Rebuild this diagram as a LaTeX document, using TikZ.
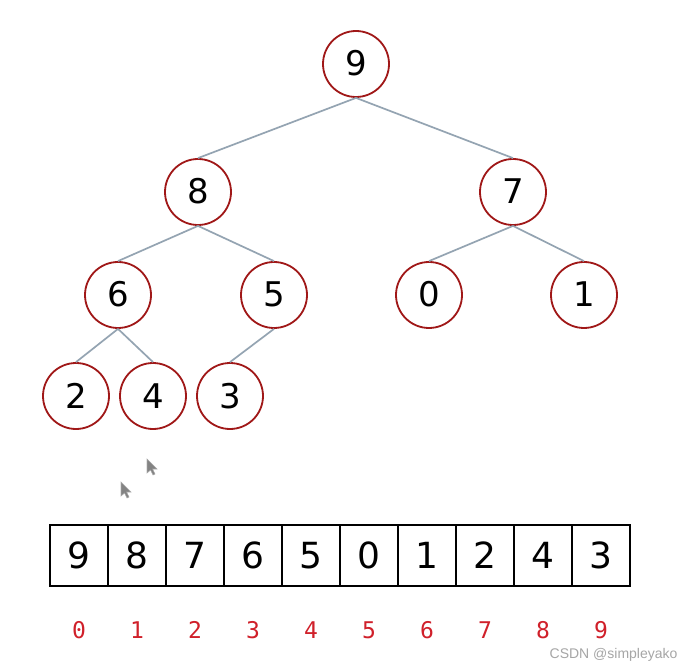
\documentclass[tikz,border=0pt]{standalone}
\usepackage{fontspec}
\setmainfont{DejaVu Sans}
\newfontfamily\idxfont{DejaVu Sans Mono}
\newfontfamily\wmfont{Liberation Sans}
\definecolor{ringred}{HTML}{A01818}
\definecolor{edgegray}{HTML}{94A4B2}
\definecolor{idxred}{HTML}{D0202A}
\definecolor{cursgray}{HTML}{6E6E6E}
\begin{document}
\begin{tikzpicture}[x=1pt,y=-1pt,
  treenode/.style={circle,draw=ringred,line width=1.8pt,minimum size=66pt,inner sep=0pt,text height=24pt,text depth=0pt,font=\fontsize{34}{34}\selectfont},
  treeedge/.style={draw=edgegray,line width=1.7pt},
  cell/.style={rectangle,draw=black,line width=1.4pt,minimum width=58pt,minimum height=61pt,inner sep=0pt,text height=26pt,text depth=0pt,font=\fontsize{36}{36}\selectfont},
  idx/.style={text=idxred,inner sep=0pt,text height=16pt,text depth=0pt,font=\idxfont\fontsize{23}{23}\selectfont},
  cursor/.style={fill=cursgray,draw=cursgray!60,line width=0.6pt,opacity=0.85}]
\useasboundingbox (0,0) rectangle (694,671);
\fill[white] (0,0) rectangle (694,671);
% tree nodes
\node[treenode] (n9) at (356,64) {9};
\node[treenode] (n8) at (198,192) {8};
\node[treenode] (n7) at (513,192) {7};
\node[treenode] (n6) at (118,295) {6};
\node[treenode] (n5) at (274,295) {5};
\node[treenode] (n0) at (429,295) {0};
\node[treenode] (n1) at (584,295) {1};
\node[treenode] (n2) at (76,396) {2};
\node[treenode] (n4) at (153,396) {4};
\node[treenode] (n3) at (230,396) {3};
% edges
\draw[treeedge] (n9.south) -- (n8.north);
\draw[treeedge] (n9.south) -- (n7.north);
\draw[treeedge] (n8.south) -- (n6.north);
\draw[treeedge] (n8.south) -- (n5.north);
\draw[treeedge] (n7.south) -- (n0.north);
\draw[treeedge] (n7.south) -- (n1.north);
\draw[treeedge] (n6.south) -- (n2.north);
\draw[treeedge] (n6.south) -- (n4.north);
\draw[treeedge] (n5.south) -- (n3.north);
% cursors
\fill[cursor] (147,459) -- (147,473) -- (150.5,470) -- (153,475) -- (155,474) -- (152.5,469) -- (157,469) -- cycle;
\fill[cursor] (121,482) -- (121,496) -- (124.5,493) -- (127,498) -- (129,497) -- (126.5,492) -- (131,492) -- cycle;
% array
\foreach \v [count=\i from 0] in {9,8,7,6,5,0,1,2,4,3} {
  \node[cell] (c\i) at (79+58*\i,555.5) {\v};
  \node[idx] (i\i) at (79+58*\i,630) {\i};
}
% watermark
\node[anchor=east,text=gray!70,font=\wmfont\fontsize{14}{14}\selectfont] (wm) at (681,655) {CSDN @simpleyako};
\end{tikzpicture}
\end{document}
